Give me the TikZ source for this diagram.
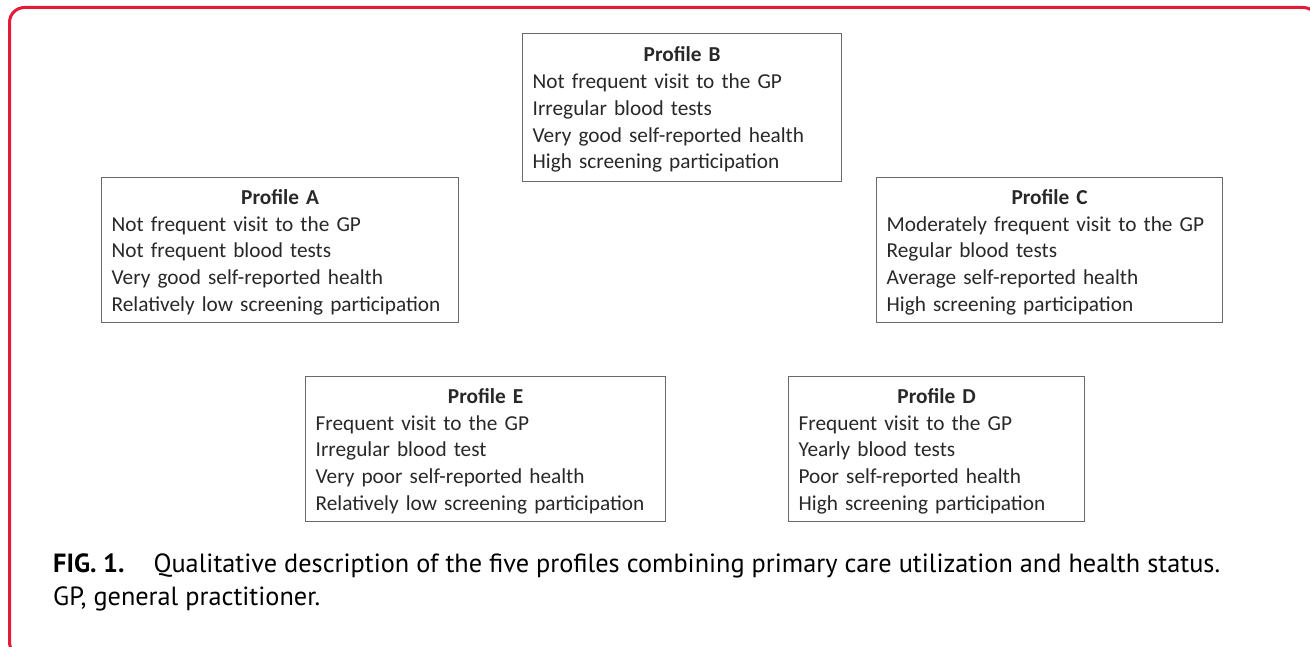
\documentclass[tikz,border=0pt]{standalone}
\usepackage{fontspec}
\setmainfont{Carlito}
\newfontfamily\capfont{PT Sans}
\usetikzlibrary{positioning}
\definecolor{framered}{RGB}{228,26,55}
\definecolor{boxgray}{RGB}{105,105,105}
\definecolor{textgray}{RGB}{40,40,40}

\newcommand{\boxfont}{\fontsize{21.3}{26.75}\selectfont\spaceskip=4pt plus 1pt\relax}
\newcommand{\profiletext}[5]{\makebox[\linewidth]{\rule{0pt}{19pt}\bfseries #1}\\\mbox{#2}\\\mbox{#3}\\\mbox{#4}\\\mbox{#5}}

\begin{document}
\begin{tikzpicture}[x=1pt, y=-1pt,
    profilebox/.style={draw=boxgray, line width=1.3pt, anchor=north west, inner xsep=10pt,
      align=left, text=textgray, font=\boxfont, minimum height=145pt},
    caption/.style={anchor=base west, inner sep=0pt, font=\capfont\fontsize{26.3}{33}\selectfont}]
      \useasboundingbox (0,0) rectangle (1310,647);
      \begin{scope}
        \clip (0,0) rectangle (1310,647);
        \draw[framered, line width=3pt, rounded corners=15pt] (9.5,7.5) rectangle (1318,657);
      \end{scope}

      \node [profilebox, text width=337pt] (prof_a) at (101,177)
        {\profiletext{Profile A}{Not frequent visit to the GP}{Not frequent blood tests}{Very good self-reported health}{Relatively low screening participation}};
      \node [profilebox, text width=299pt, minimum height=148pt] (prof_b) at (522,33)
        {\profiletext{Profile B}{Not frequent visit to the GP}{Irregular blood tests}{Very good self-reported health}{High screening participation}};
      \node [profilebox, text width=326pt] (prof_c) at (876,177)
        {\profiletext{Profile C}{Moderately frequent visit to the GP}{Regular blood tests}{Average self-reported health}{High screening participation}};
      \node [profilebox, text width=340pt] (prof_e) at (305,376)
        {\profiletext{Profile E}{Frequent visit to the GP}{Irregular blood test}{Very poor self-reported health}{Relatively low screening participation}};
      \node [profilebox, text width=276pt] (prof_d) at (788,376)
        {\profiletext{Profile D}{Frequent visit to the GP}{Yearly blood tests}{Poor self-reported health}{High screening participation}};

      \node [caption] (cap_one) at (53,572) {\textbf{FIG. 1.}\hspace{29pt}Qualitative description of the five profiles combining primary care utilization and health status.};
      \node [caption] (cap_two) at (53,605) {GP, general practitioner.};
\end{tikzpicture}
\end{document}
